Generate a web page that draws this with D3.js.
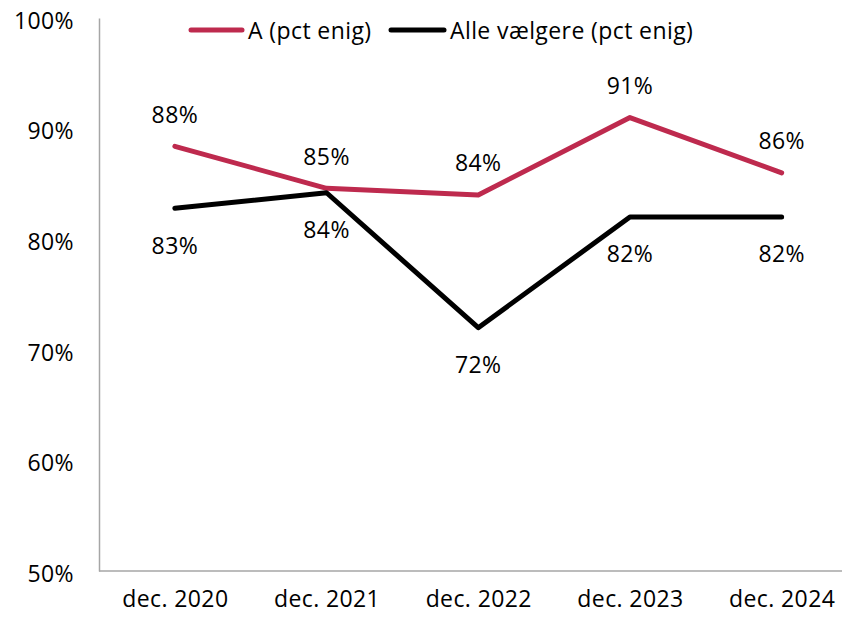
<!DOCTYPE html>
<html>
<head>
<meta charset="utf-8">
<script src="https://cdn.jsdelivr.net/npm/d3@7"></script>
<style>
  html, body { margin: 0; padding: 0; background: #fff; }
  svg { display: block; font-family: "Open Sans", "Noto Sans", sans-serif; }
  text { letter-spacing: 0.4px; }
</style>
</head>
<body>
<svg id="chart" width="842" height="618"></svg>
<script>
const categories = ["dec. 2020", "dec. 2021", "dec. 2022", "dec. 2023", "dec. 2024"];
const seriesA = [88.4, 84.6, 84.0, 91.0, 86.0];
const seriesAlle = [82.8, 84.2, 72.0, 82.0, 82.0];
const seriesNames = ["A (pct enig)", "Alle vælgere (pct enig)"];
const yTicks = [50, 60, 70, 80, 90, 100];

const svg = d3.select("#chart");
const plotLeft = 99, plotTop = 18, plotBottom = 571, plotRight = 857.5;

const x = d3.scalePoint().domain(categories).range([plotLeft, plotRight]).padding(0.5);
const y = d3.scaleLinear().domain([50, 100]).range([plotBottom, plotTop]);

const fontSize = 23;
const red = "#BE2A4E";
const axisColor = "#A6A6A6";

// Y axis
const yAxis = d3.axisLeft(y).tickValues(yTicks).tickSize(0).tickPadding(25)
  .tickFormat(d => d + "%");
const gy = svg.append("g").attr("transform", `translate(${plotLeft},0)`).call(yAxis);
gy.select(".domain").attr("stroke", axisColor).attr("stroke-width", 1.5);
gy.selectAll("text").attr("font-size", fontSize).attr("fill", "#000")
  .attr("font-family", "'Open Sans', sans-serif").attr("dy", "0.45em");

// X axis
const xAxis = d3.axisBottom(x).tickSize(0).tickPadding(24);
const gx = svg.append("g").attr("transform", `translate(0,${plotBottom})`).call(xAxis);
gx.select(".domain").attr("stroke", axisColor).attr("stroke-width", 1.5)
  .attr("d", `M${plotLeft},0H${plotRight}`);
gx.selectAll("text").attr("font-size", fontSize).attr("fill", "#000")
  .attr("font-family", "'Open Sans', sans-serif").attr("dy", "0.5em");

const line = d3.line().x((d, i) => x(categories[i])).y(d => y(d));

svg.append("path").datum(seriesA).attr("d", line)
  .attr("fill", "none").attr("stroke", red).attr("stroke-width", 5)
  .attr("stroke-linecap", "round").attr("stroke-linejoin", "round");
svg.append("path").datum(seriesAlle).attr("d", line)
  .attr("fill", "none").attr("stroke", "#000").attr("stroke-width", 5)
  .attr("stroke-linecap", "round").attr("stroke-linejoin", "round");

const fmt = v => Math.round(v) + "%";

svg.append("g").selectAll("text").data(seriesA).join("text")
  .attr("x", (d, i) => x(categories[i]))
  .attr("y", d => y(d) - 32)
  .attr("dy", "0.36em")
  .attr("text-anchor", "middle").attr("font-size", fontSize).attr("fill", "#000")
  .text(fmt);

svg.append("g").selectAll("text").data(seriesAlle).join("text")
  .attr("x", (d, i) => x(categories[i]))
  .attr("y", d => y(d) + 37)
  .attr("dy", "0.36em")
  .attr("text-anchor", "middle").attr("font-size", fontSize).attr("fill", "#000")
  .text(fmt);

// Legend
const legend = [
  { name: seriesNames[0], color: red, x0: 191, x1: 242, tx: 248 },
  { name: seriesNames[1], color: "#000", x0: 391, x1: 444, tx: 450 }
];
const lg = svg.append("g");
legend.forEach(l => {
  lg.append("line").attr("x1", l.x0).attr("x2", l.x1).attr("y1", 30).attr("y2", 30)
    .attr("stroke", l.color).attr("stroke-width", 5).attr("stroke-linecap", "round");
  lg.append("text").attr("x", l.tx).attr("y", 31).attr("dy", "0.36em")
    .attr("font-size", fontSize).attr("fill", "#000").text(l.name);
});
</script>
</body>
</html>
